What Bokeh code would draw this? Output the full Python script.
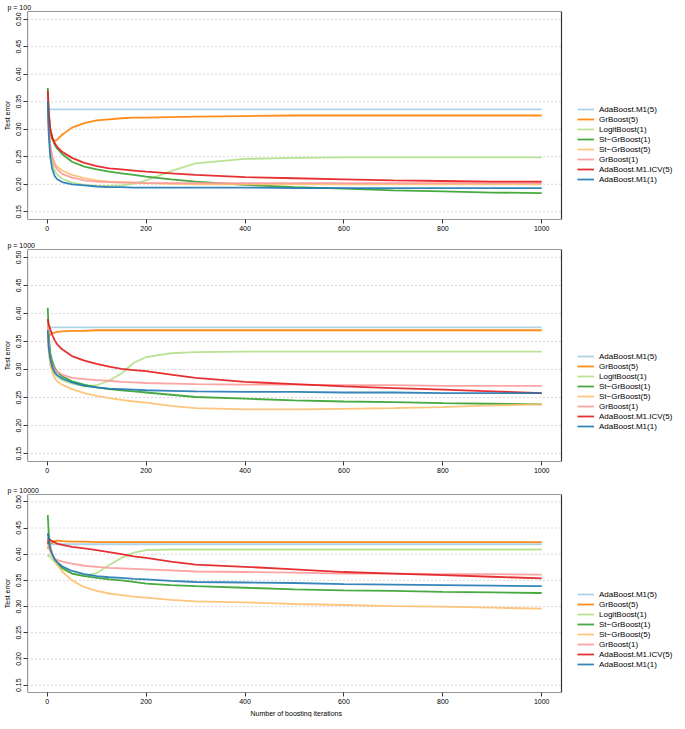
from bokeh.plotting import figure
from bokeh.layouts import column
from bokeh.models import (Legend, LegendItem, Range1d, FixedTicker, PrintfTickFormatter,
                          BoxAnnotation, Title)
from bokeh.embed import file_html
from bokeh.resources import INLINE

# ---------------- data ----------------
iterations = [1, 3, 6, 10, 15, 20, 30, 50, 75, 100, 125, 150, 175, 200, 250, 300,
              400, 500, 600, 700, 800, 900, 1000]

series_names = ["AdaBoost.M1(5)", "GrBoost(5)", "LogitBoost(1)", "St\u2212GrBoost(1)",
                "St\u2212GrBoost(5)", "GrBoost(1)", "AdaBoost.M1.ICV(5)", "AdaBoost.M1(1)"]
series_colors = ["#A6CEE3", "#FF7F00", "#B2DF8A", "#33A02C",
                 "#FDBF6F", "#FB9A99", "#E31A1C", "#1F78B4"]

panel_titles = ["p = 100", "p = 1000", "p = 10000"]
y_ticks = [0.15, 0.20, 0.25, 0.30, 0.35, 0.40, 0.45, 0.50]
x_ticks = [0, 200, 400, 600, 800, 1000]

# p = 100
p100_ada5 = [0.336, 0.336, 0.336, 0.336, 0.336, 0.336, 0.336, 0.336, 0.336, 0.336, 0.336, 0.336,
             0.336, 0.336, 0.336, 0.336, 0.336, 0.336, 0.336, 0.336, 0.336, 0.336, 0.336]
p100_gr5 = [0.335, 0.305, 0.290, 0.282, 0.279, 0.281, 0.290, 0.303, 0.311, 0.316, 0.318, 0.320,
            0.321, 0.321, 0.322, 0.323, 0.324, 0.325, 0.325, 0.325, 0.325, 0.325, 0.325]
p100_logit1 = [0.360, 0.300, 0.260, 0.240, 0.225, 0.218, 0.210, 0.203, 0.199, 0.197, 0.197, 0.198,
               0.201, 0.207, 0.224, 0.238, 0.246, 0.248, 0.249, 0.249, 0.249, 0.249, 0.249]
p100_stgr1 = [0.375, 0.330, 0.300, 0.285, 0.272, 0.265, 0.255, 0.241, 0.232, 0.227, 0.223, 0.220,
              0.217, 0.214, 0.209, 0.205, 0.199, 0.195, 0.192, 0.189, 0.187, 0.185, 0.184]
p100_stgr5 = [0.340, 0.300, 0.270, 0.250, 0.238, 0.232, 0.225, 0.217, 0.211, 0.207, 0.205, 0.204,
              0.203, 0.202, 0.201, 0.200, 0.200, 0.200, 0.200, 0.200, 0.200, 0.200, 0.200]
p100_gr1 = [0.360, 0.310, 0.270, 0.250, 0.235, 0.227, 0.219, 0.212, 0.207, 0.205, 0.204, 0.203,
            0.203, 0.202, 0.202, 0.202, 0.202, 0.202, 0.202, 0.202, 0.202, 0.202, 0.202]
p100_icv5 = [0.370, 0.330, 0.300, 0.285, 0.275, 0.268, 0.259, 0.248, 0.239, 0.233, 0.229, 0.227,
             0.225, 0.223, 0.220, 0.217, 0.213, 0.211, 0.209, 0.207, 0.206, 0.205, 0.205]
p100_ada1 = [0.350, 0.290, 0.250, 0.228, 0.215, 0.209, 0.204, 0.200, 0.198, 0.196, 0.195, 0.195,
             0.194, 0.194, 0.194, 0.194, 0.194, 0.193, 0.193, 0.193, 0.193, 0.193, 0.193]

# p = 1000
p1000_ada5 = [0.375, 0.375, 0.375, 0.375, 0.375, 0.375, 0.375, 0.375, 0.375, 0.375, 0.375, 0.375,
              0.375, 0.375, 0.375, 0.375, 0.375, 0.375, 0.375, 0.375, 0.375, 0.375, 0.375]
p1000_gr5 = [0.350, 0.358, 0.362, 0.365, 0.366, 0.367, 0.368, 0.369, 0.369, 0.370, 0.370, 0.370,
             0.370, 0.370, 0.370, 0.370, 0.370, 0.370, 0.370, 0.370, 0.370, 0.370, 0.370]
p1000_logit1 = [0.360, 0.330, 0.310, 0.300, 0.292, 0.287, 0.281, 0.275, 0.270, 0.272, 0.280, 0.293,
                0.312, 0.322, 0.329, 0.331, 0.332, 0.332, 0.332, 0.332, 0.332, 0.332, 0.332]
p1000_stgr1 = [0.410, 0.360, 0.330, 0.315, 0.303, 0.296, 0.288, 0.279, 0.273, 0.268, 0.265, 0.263,
               0.261, 0.259, 0.255, 0.251, 0.248, 0.245, 0.243, 0.242, 0.240, 0.239, 0.238]
p1000_stgr5 = [0.380, 0.340, 0.310, 0.295, 0.285, 0.279, 0.273, 0.265, 0.258, 0.253, 0.249, 0.246,
               0.243, 0.241, 0.235, 0.231, 0.229, 0.229, 0.230, 0.231, 0.233, 0.236, 0.238]
p1000_gr1 = [0.380, 0.340, 0.320, 0.308, 0.300, 0.296, 0.291, 0.285, 0.283, 0.281, 0.280, 0.278,
             0.277, 0.276, 0.275, 0.274, 0.273, 0.273, 0.272, 0.272, 0.271, 0.271, 0.271]
p1000_icv5 = [0.390, 0.380, 0.372, 0.362, 0.352, 0.345, 0.336, 0.324, 0.316, 0.310, 0.305, 0.301,
              0.299, 0.297, 0.291, 0.285, 0.278, 0.274, 0.270, 0.267, 0.264, 0.261, 0.258]
p1000_ada1 = [0.370, 0.340, 0.320, 0.305, 0.295, 0.290, 0.284, 0.277, 0.271, 0.268, 0.266, 0.265,
              0.264, 0.263, 0.262, 0.261, 0.260, 0.260, 0.259, 0.259, 0.258, 0.258, 0.258]

# p = 10000
p10000_ada5 = [0.419, 0.419, 0.419, 0.419, 0.419, 0.419, 0.419, 0.419, 0.419, 0.419, 0.419, 0.419,
               0.419, 0.419, 0.419, 0.419, 0.419, 0.419, 0.419, 0.419, 0.419, 0.419, 0.419]
p10000_gr5 = [0.410, 0.415, 0.420, 0.422, 0.425, 0.426, 0.425, 0.424, 0.424, 0.423, 0.423, 0.423,
              0.423, 0.423, 0.423, 0.423, 0.423, 0.423, 0.423, 0.423, 0.423, 0.423, 0.423]
p10000_logit1 = [0.395, 0.400, 0.395, 0.390, 0.385, 0.380, 0.372, 0.363, 0.359, 0.364, 0.379, 0.393,
                 0.403, 0.408, 0.409, 0.409, 0.409, 0.409, 0.409, 0.409, 0.409, 0.409, 0.409]
p10000_stgr1 = [0.475, 0.440, 0.415, 0.400, 0.390, 0.383, 0.374, 0.363, 0.358, 0.355, 0.352, 0.350,
                0.347, 0.344, 0.341, 0.339, 0.336, 0.333, 0.331, 0.330, 0.328, 0.327, 0.326]
p10000_stgr5 = [0.430, 0.425, 0.415, 0.400, 0.390, 0.380, 0.367, 0.350, 0.337, 0.330, 0.325, 0.322,
                0.319, 0.317, 0.313, 0.310, 0.308, 0.305, 0.303, 0.301, 0.300, 0.298, 0.296]
p10000_gr1 = [0.420, 0.415, 0.405, 0.398, 0.392, 0.389, 0.386, 0.382, 0.378, 0.376, 0.374, 0.373,
              0.372, 0.371, 0.369, 0.367, 0.366, 0.365, 0.363, 0.363, 0.362, 0.362, 0.361]
p10000_icv5 = [0.420, 0.430, 0.427, 0.425, 0.423, 0.420, 0.418, 0.414, 0.411, 0.408, 0.404, 0.400,
               0.396, 0.393, 0.386, 0.380, 0.376, 0.371, 0.366, 0.363, 0.360, 0.357, 0.354]
p10000_ada1 = [0.440, 0.425, 0.410, 0.400, 0.390, 0.385, 0.377, 0.368, 0.362, 0.358, 0.356, 0.355,
               0.353, 0.352, 0.349, 0.347, 0.346, 0.345, 0.343, 0.342, 0.341, 0.340, 0.339]

panel_data = [
    [p100_ada5, p100_gr5, p100_logit1, p100_stgr1, p100_stgr5, p100_gr1, p100_icv5, p100_ada1],
    [p1000_ada5, p1000_gr5, p1000_logit1, p1000_stgr1, p1000_stgr5, p1000_gr1, p1000_icv5, p1000_ada1],
    [p10000_ada5, p10000_gr5, p10000_logit1, p10000_stgr1, p10000_stgr5, p10000_gr1, p10000_icv5, p10000_ada1],
]
x_title = "Number of boosting iterations"

FONT = "Liberation Sans"
X_START, X_END = -40, 1040          # plotting box range (R style 4% padding)
Y_START, Y_END = 0.136, 0.514
BOX_W = 534                          # box width in px
FRAME_W = 647                        # box + legend area
x_view_end = X_START + (X_END - X_START) * FRAME_W / BOX_W
frame_heights = [208, 212, 198]
bottoms = [19, 22, 0]
legend_top_offsets = [93, 102, 95]   # px from frame top to legend top
ENTRY_H = 10
LINE_W = 1.8
LINE_ALPHA = 0.9

figs = []
for k in range(3):
    last = (k == 2)
    fh = frame_heights[k]
    p = figure(frame_width=FRAME_W, frame_height=fh,
               x_range=Range1d(X_START, x_view_end), y_range=Range1d(Y_START, Y_END),
               output_backend="svg", toolbar_location=None,
               min_border_left=0, min_border_right=0, min_border_top=10,
               min_border_bottom=bottoms[k], background_fill_color="white",
               border_fill_color="white", outline_line_color=None)
    p.title.text = panel_titles[k]
    p.title.align = "left"
    p.title.offset = -20
    p.title.standoff = 2
    p.title.text_font = FONT
    p.title.text_font_size = "7px"
    p.title.text_font_style = "normal"
    p.title.text_color = "black"

    for ax in (p.xaxis[0], p.yaxis[0]):
        ax.axis_line_color = None
        ax.major_tick_line_color = "#333333"
        ax.major_tick_out = 4
        ax.major_tick_in = 0
        ax.minor_tick_line_color = None
        ax.major_label_text_font = FONT
        ax.major_label_text_font_size = "7px"
        ax.major_label_text_color = "black"
        ax.major_label_standoff = 2
        ax.axis_label_text_font = FONT
        ax.axis_label_text_font_size = "7px"
        ax.axis_label_text_font_style = "normal"
        ax.axis_label_text_color = "black"
        ax.axis_label_standoff = 3

    p.xaxis.ticker = FixedTicker(ticks=x_ticks)
    p.yaxis.ticker = FixedTicker(ticks=y_ticks)
    p.yaxis.formatter = PrintfTickFormatter(format="%.2f")
    p.yaxis.major_label_orientation = "vertical"
    p.yaxis.axis_label = "Test error"
    if last:
        # x-axis title centred under the plotting box (not under the legend area)
        p.add_layout(Title(text=x_title, align="left", offset=BOX_W / 2 - 44,
                           standoff=2, text_font=FONT, text_font_size="7px",
                           text_font_style="normal", text_color="black"), "below")

    p.xgrid.grid_line_color = None
    p.ygrid.grid_line_color = None
    # dotted horizontal reference lines inside the box only
    p.segment(x0=[X_START] * len(y_ticks), x1=[X_END] * len(y_ticks), y0=y_ticks, y1=y_ticks,
              line_color="#b0b0b0", line_dash="1 3", line_width=1)

    items = []
    for name, col, vals in zip(series_names, series_colors, panel_data[k]):
        r = p.line(iterations, vals, line_color=col, line_width=LINE_W, line_alpha=LINE_ALPHA)
        items.append(LegendItem(label=name, renderers=[r]))

    # plotting box
    p.add_layout(BoxAnnotation(left=X_START, right=X_END, bottom=Y_START, top=Y_END,
                               fill_alpha=0, line_color="#333333", line_alpha=1,
                               line_width=1.2))

    leg_h = ENTRY_H * len(series_names)
    leg = Legend(items=items,
                 location=(BOX_W + 16, fh - legend_top_offsets[k] - leg_h),
                 label_text_font=FONT,
                 label_text_font_size="8px", label_text_color="black",
                 glyph_width=17, glyph_height=ENTRY_H, label_height=ENTRY_H,
                 label_standoff=5, spacing=0, padding=0, margin=0,
                 border_line_color=None, background_fill_alpha=0)
    p.add_layout(leg, "center")
    figs.append(p)

layout = column(*figs, spacing=0)
open("out.html", "w").write(file_html(layout, INLINE))
